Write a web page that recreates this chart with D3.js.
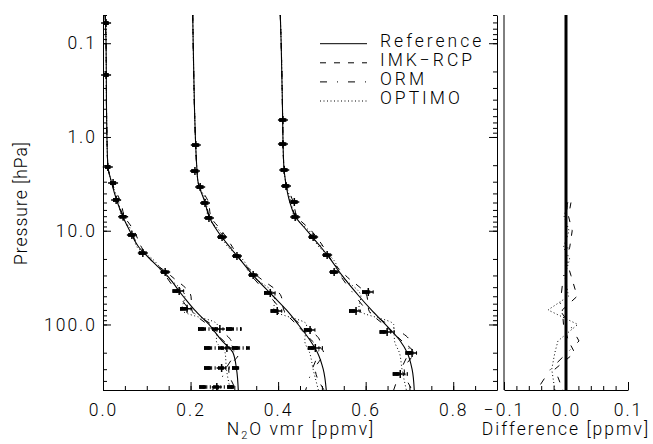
<!DOCTYPE html>
<html>
<head>
<meta charset="utf-8">
<script src="https://cdn.jsdelivr.net/npm/d3@7/dist/d3.min.js"></script>
<style>
body { margin: 0; background: #fff; }
svg text { font-family: Roboto, "Liberation Sans", Arial, sans-serif; font-weight: 300; font-size: 17.5px; letter-spacing: 2px; fill: #000; }
</style>
</head>
<body>
<div id="chart"></div>
<script>
'use strict';

// pressure grid of the reference profiles [hPa]
const refPressure = [0.05, 0.1, 0.5, 1, 2, 3, 5, 7, 10, 15, 20, 30, 50, 70, 100, 150, 200, 300, 500];
// reference N2O profiles [ppmv], three cases shown side by side
const refA = [0.005, 0.007, 0.008, 0.009, 0.011, 0.019, 0.033, 0.045, 0.061, 0.082, 0.107, 0.146, 0.183, 0.209, 0.242, 0.272, 0.297, 0.305, 0.309];
const refB = [0.205, 0.206, 0.209, 0.211, 0.214, 0.217, 0.233, 0.242, 0.261, 0.290, 0.312, 0.343, 0.389, 0.419, 0.446, 0.474, 0.490, 0.503, 0.510];
const refC = [0.405, 0.407, 0.410, 0.411, 0.413, 0.417, 0.427, 0.439, 0.466, 0.498, 0.519, 0.546, 0.585, 0.613, 0.645, 0.679, 0.695, 0.706, 0.711];

// retrieval levels [hPa], retrieved values and errors [ppmv]
const levA = [0.061, 0.218, 2.09, 3.1, 4.7, 7.1, 11.1, 17.3, 27.6, 44, 68, 112, 178, 291, 464];
const retA = [0.007, 0.007, 0.011, 0.023, 0.030, 0.046, 0.066, 0.091, 0.142, 0.174, 0.192, 0.267, 0.283, 0.271, 0.260];
const errA = [0.006, 0.006, 0.006, 0.007, 0.007, 0.008, 0.008, 0.009, 0.009, 0.015, 0.016, 0.050, 0.052, 0.040, 0.040];

const levB = [1.22, 2.31, 3.42, 5.06, 7.3, 11.7, 18.6, 29.7, 46.1, 71.8, 114.5, 178];
const retB = [0.212, 0.210, 0.222, 0.233, 0.242, 0.272, 0.306, 0.343, 0.382, 0.398, 0.473, 0.485];
const errB = [0.008, 0.008, 0.008, 0.008, 0.008, 0.009, 0.009, 0.009, 0.014, 0.015, 0.014, 0.017];

const levC = [0.659, 1.19, 2.25, 3.33, 4.94, 7.14, 11.7, 18.2, 27.6, 45.1, 71.8, 120, 201, 337];
const retC = [0.411, 0.411, 0.414, 0.418, 0.437, 0.439, 0.480, 0.512, 0.528, 0.606, 0.578, 0.649, 0.706, 0.679];
const errC = [0.008, 0.008, 0.008, 0.008, 0.008, 0.008, 0.009, 0.009, 0.009, 0.014, 0.016, 0.017, 0.015, 0.017];

// retrieval minus reference [ppmv]
const diffPressure = [5, 7, 10, 15, 20, 30, 50, 70, 100, 150, 200, 300, 500];
const diffIMK    = [0.008, 0.004, 0.010, 0.006, 0.000, 0.008, 0.018, -0.006, -0.004, 0.004, 0.014, -0.018, -0.005];
const diffORM    = [0.002, 0.001, 0.000, 0.003, 0.001, -0.004, -0.008, -0.010, 0.006, 0.021, 0.002, -0.025, -0.047];
const diffOPTIMO = [0.003, -0.003, 0.005, -0.004, 0.006, -0.002, 0.004, -0.029, 0.019, -0.013, -0.018, -0.023, -0.018];

const legendLabels = ['Reference', 'IMK\u2212RCP', 'ORM', 'OPTIMO'];
const xMajorTicks = [0, 0.2, 0.4, 0.6, 0.8];
const diffMajorTicks = [-0.1, 0, 0.1];
const yMajorTicks = [0.1, 1, 10, 100];

const W = 653, H = 444;
const dashes = ['none', '6,8', '7,10,1,10', '1,2.5'];

const svg = d3.select('#chart').append('svg').attr('width', W).attr('height', H);

const x = d3.scaleLinear().domain([0, 0.9]).range([103, 497]);
const xd = d3.scaleLinear().domain([-0.1, 0.1]).range([504, 628]);
const y = d3.scaleLog().domain([0.05, 500]).range([15, 390]);
const fmt = d3.format('.1f');

/**
 * Draws an axis twice: short minor ticks, then long labelled major ticks.
 */
function drawAxis(axisFn, scale, minor, major, labels, transform) {
    const g = svg.append('g').attr('transform', transform);
    g.call(axisFn(scale).tickValues(minor).tickSizeInner(-4).tickSizeOuter(0).tickFormat(''));
    const gm = svg.append('g').attr('transform', transform);
    gm.call(axisFn(scale).tickValues(major).tickSizeInner(-8).tickSizeOuter(0).tickPadding(6)
        .tickFormat(labels ? fmt : ''));
    gm.select('.domain').remove();
    svg.selectAll('.tick text').attr('font-size', null).attr('font-family', null);
    svg.selectAll('.domain, .tick line').attr('stroke', '#000').attr('stroke-width', 1);
    return gm;
}

// left panel axes
drawAxis(d3.axisLeft, y, y.ticks(), yMajorTicks, true, 'translate(103,0)');
drawAxis(d3.axisRight, y, y.ticks(), yMajorTicks, false, 'translate(497,0)');
drawAxis(d3.axisBottom, x, x.ticks(18), xMajorTicks, true, 'translate(0,390)')
    .selectAll('text').attr('y', 14);

// right panel axes
svg.append('line').attr('x1', 504).attr('x2', 504).attr('y1', 15).attr('y2', 390).attr('stroke', '#000');
drawAxis(d3.axisBottom, xd, xd.ticks(10), diffMajorTicks, true, 'translate(0,390)')
    .selectAll('text').attr('y', 14);

// axis titles
svg.append('text')
    .attr('transform', 'translate(27,203) rotate(-90)')
    .attr('text-anchor', 'middle')
    .style('letter-spacing', '1px')
    .text('Pressure [hPa]');

const xt = svg.append('text').attr('x', 301).attr('y', 435).attr('text-anchor', 'middle');
xt.append('tspan').text('N');
xt.append('tspan').attr('font-size', '11px').attr('dy', 4).text('2');
xt.append('tspan').attr('dy', -4).text('O vmr [ppmv]');

svg.append('text').attr('x', 566).attr('y', 435).attr('text-anchor', 'middle').text('Difference [ppmv]');

// profiles
const line = d3.line().x(d => x(d[1])).y(d => y(d[0])).curve(d3.curveMonotoneY);
const diffs = [diffIMK, diffORM, diffOPTIMO];

[refA, refB, refC].forEach(ref => {
    // retrieved profiles of the three codes
    diffs.forEach((diff, k) => {
        const pts = refPressure.map((p, i) => {
            const j = diffPressure.indexOf(p);
            return [p, ref[i] + (j >= 0 ? diff[j] : 0)];
        });
        svg.append('path').datum(pts).attr('d', line)
            .attr('fill', 'none').attr('stroke', '#000').attr('stroke-width', 1)
            .attr('stroke-dasharray', dashes[k + 1]);
    });
    svg.append('path').datum(d3.zip(refPressure, ref)).attr('d', line)
        .attr('fill', 'none').attr('stroke', '#000').attr('stroke-width', 1.1);
});

// retrieval points with error bars
[[levA, retA, errA], [levB, retB, errB], [levC, retC, errC]].forEach(([lev, ret, err]) => {
    const pts = d3.zip(lev, ret, err);
    dashes.slice(1).forEach(dash => {
        svg.append('g').selectAll('line').data(pts).join('line')
            .attr('x1', d => x(d[1] - d[2])).attr('x2', d => x(d[1] + d[2]))
            .attr('y1', d => y(d[0])).attr('y2', d => y(d[0]))
            .attr('stroke', '#000').attr('stroke-width', 3.5).attr('stroke-dasharray', dash);
    });
    svg.append('g').selectAll('path').data(pts).join('path')
        .attr('d', d => {
            const cx = x(d[1]), cy = y(d[0]);
            return 'M' + (cx - 5) + ',' + cy + 'H' + (cx + 5) + 'M' + cx + ',' + (cy - 4) + 'V' + (cy + 4);
        })
        .attr('fill', 'none').attr('stroke', '#000').attr('stroke-width', 1.5);
});

// difference panel
svg.append('line').attr('x1', xd(0)).attr('x2', xd(0)).attr('y1', y(0.05)).attr('y2', y(500))
    .attr('stroke', '#000').attr('stroke-width', 3);
const dline = d3.line().x(d => xd(d[1])).y(d => y(d[0]));
diffs.forEach((diff, k) => {
    svg.append('path').datum(d3.zip(diffPressure, diff)).attr('d', dline)
        .attr('fill', 'none').attr('stroke', '#000').attr('stroke-width', 1)
        .attr('stroke-dasharray', dashes[k + 1]);
});

// legend
const lg = svg.append('g').selectAll('g').data(legendLabels).join('g')
    .attr('transform', (d, i) => 'translate(0,' + (46.7 + 19.1 * i) + ')');
lg.append('line').attr('x1', 320).attr('x2', 367).attr('y1', -3).attr('y2', -3)
    .attr('stroke', '#000').attr('stroke-width', 1)
    .attr('stroke-dasharray', (d, i) => dashes[i]);
lg.append('text').attr('x', 380).style('letter-spacing', '3px').text(d => d);
</script>
</body>
</html>
